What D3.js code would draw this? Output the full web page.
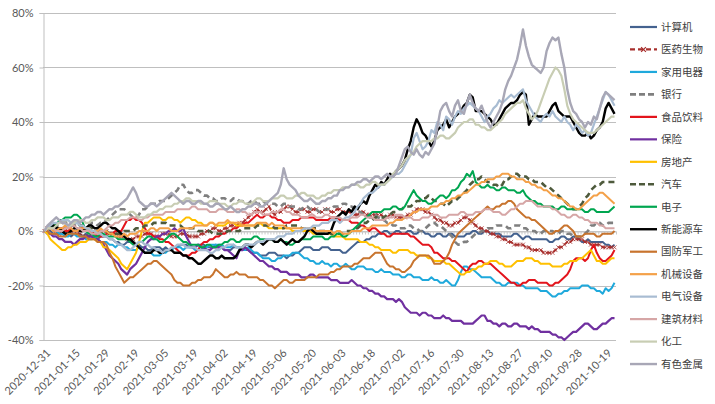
<!DOCTYPE html>
<html><head><meta charset="utf-8">
<script src="https://cdn.jsdelivr.net/npm/d3@7"></script>
<style>body{margin:0;background:#fff}svg{display:block}</style>
</head><body><svg id="c" width="715" height="404"></svg>
<script>
// ---------- data ----------
const tickLabels = ["2020-12-31","2021-01-15","2021-01-29","2021-02-19","2021-03-05","2021-03-19","2021-04-02","2021-04-19","2021-05-06","2021-05-20","2021-06-03","2021-06-18","2021-07-02","2021-07-16","2021-07-30","2021-08-13","2021-08-27","2021-09-10","2021-09-28","2021-10-19"];
const labelStep = 10;
const nPoints = 194;
const yTicks = [-40,-20,0,20,40,60,80];

const jisuanji = [0,1,0,-1,-1,0,0,-1,-1,-2, -1,-1,-1,-2,-1,-2,-2,-3,-3,-2, -2,-2,-3,-3,-4,-4,-5,-5,-4,-4, -4,-5,-5,-6,-6,-7,-7,-6,-6,-6, -7,-6,-7,-7,-6,-6,-5,-5,-5,-6, -6,-6,-5,-5,-5,-6,-6,-6,-5,-6, -6,-7,-7,-7,-6,-6,-6,-7,-7,-7, -8,-8,-8,-9,-9,-9,-8,-8,-8,-9, -9,-9,-10,-9,-9,-8,-8,-7,-6,-6, -6,-7,-7,-7,-6,-6,-6,-7,-7,-7, -7,-8,-8,-7,-6,-5,-4,-4,-4,-3, -3,-2,-2,-1,-1,0,0,-1,-1,0, 0,-1,-1,0,0,-1,-1,0,0,-1, -1,-2,-2,-1,-1,-2,-2,-1,-1,-2, -2,-2,-2,-1,-1,0,0,-1,-1,0, 0,-1,-1,-1,-1,-2,-2,-2,-2,-1, -1,-2,-3,-2,-2,-3,-3,-3,-3,-3, -3,-4,-4,-3,-3,-2,-2,-3,-3,-2, -2,-3,-4,-4,-3,-4,-4,-4,-4,-4, -5,-5,-6,-5];
const yiyao = [0,1,1,1,0,-1,-1,0,0,0, -1,-1,-1,-2,-2,-2,-1,-1,-1,0, 0,0,-1,-1,-1,-2,-2,-2,-3,-3, -3,-2,-2,-2,-1,-1,-1,-2,-2,-2, -1,-1,-1,-2,-2,-2,-1,-1,-1,-2, -2,-2,-2,-1,-1,0,0,1,1,0, 0,1,1,2,2,2,3,3,4,5, 6,7,8,7,7,8,9,7,6,7, 7,8,9,9,8,7,7,8,8,7, 7,8,8,7,7,8,8,7,7,8, 8,7,7,7,7,6,6,7,7,6, 6,6,6,6,6,5,5,6,6,5, 5,5,5,6,6,7,8,8,8,7, 7,6,5,4,4,3,3,2,2,3, 3,4,5,5,4,3,2,1,1,0, 0,-1,-1,-2,-2,-3,-3,-4,-4,-5, -5,-5,-5,-6,-6,-7,-7,-7,-7,-8, -8,-8,-8,-7,-6,-6,-5,-4,-4,-3, -3,-3,-3,-4,-4,-5,-5,-5,-5,-6, -6,-6,-6,-6];
const jiadian = [0,1,2,1,0,-1,-1,-2,-2,-1, -1,-2,-2,-2,-3,-3,-3,-2,-3,-4, -4,-4,-5,-5,-6,-5,-5,-6,-6,-7, -7,-7,-6,-7,-8,-8,-8,-9,-9,-9, -8,-8,-7,-7,-6,-6,-6,-7,-6,-6, -6,-7,-7,-7,-6,-6,-5,-5,-5,-5, -5,-6,-6,-6,-5,-6,-6,-7,-7,-6, -7,-8,-8,-9,-10,-10,-10,-11,-11,-10, -10,-9,-9,-9,-8,-8,-8,-9,-10,-10, -11,-11,-12,-12,-11,-12,-12,-13,-12,-12, -13,-13,-12,-13,-14,-14,-13,-13,-13,-14, -14,-14,-15,-15,-14,-15,-15,-15,-16,-16, -16,-17,-17,-16,-16,-17,-17,-17,-18,-18, -18,-17,-18,-18,-19,-19,-18,-19,-20,-20, -18,-15,-13,-13,-14,-14,-15,-16,-17,-17, -17,-17,-18,-19,-19,-20,-20,-19,-19,-19, -19,-20,-20,-21,-21,-21,-21,-21,-22,-22, -22,-23,-24,-24,-23,-23,-22,-22,-21,-21, -21,-21,-20,-20,-20,-21,-21,-22,-22,-23, -21,-22,-21,-19];
const yinhang = [0,1,2,2,2,1,1,1,2,2, 2,2,1,1,2,2,3,3,2,3, 3,4,5,6,7,8,8,8,7,6, 5,5,6,8,8,9,10,10,10,11, 11,11,12,13,14,15,17,17,15,14, 14,15,15,14,13,13,12,12,11,11, 12,12,11,11,12,12,11,11,10,10, 11,11,10,10,11,10,10,10,10,9, 9,10,10,9,9,9,8,8,9,9, 8,8,8,7,7,8,8,8,9,9, 9,10,10,9,9,8,7,7,6,6, 5,5,6,5,4,4,3,3,2,2, 1,1,1,2,2,1,1,0,0,1, 2,3,3,2,2,1,0,-1,-2,-4, -5,-5,-4,-4,-3,-2,-1,-1,0,0, 1,1,1,2,2,2,2,1,1,2, 2,2,1,1,0,0,0,-1,-1,0, 0,0,0,-1,-1,0,0,-1,-1,-2, -2,-2,-2,-1,0,2,2,3,3,2, 2,3,3,3];
const shipin = [0,1,2,2,1,1,1,0,0,1, 0,0,1,1,0,0,-1,-1,-2,-2, -2,-1,-1,-1,0,0,0,2,4,4, 5,4,4,3,1,-1,-1,-2,-2,-3, -3,-4,-4,-5,-6,-7,-8,-9,-9,-9, -8,-8,-7,-5,-4,-4,-3,-3,-2,-2, -1,-1,0,0,1,1,2,2,3,3, 4,5,6,5,5,6,6,5,5,4, 4,3,3,3,4,4,4,5,5,5, 5,5,4,4,4,4,4,5,5,5, 4,4,4,4,3,3,3,2,2,1, 0,1,1,0,-1,-1,-2,-2,-1,-1, -1,-1,-1,-1,-2,-2,-3,-4,-5,-5, -5,-6,-8,-8,-9,-10,-10,-10,-11,-11, -12,-13,-14,-15,-13,-12,-12,-11,-11,-12, -12,-12,-13,-14,-15,-16,-17,-18,-19,-19, -20,-20,-19,-19,-18,-18,-18,-19,-19,-19, -19,-20,-20,-19,-19,-18,-17,-16,-14,-11, -10,-10,-10,-11,-10,-7,-5,-8,-10,-11, -11,-10,-9,-7];
const baoxian = [0,-1,-1,-2,-2,-3,-3,-4,-4,-4, -5,-4,-3,-3,-2,-2,-2,-3,-3,-4, -5,-7,-9,-10,-11,-12,-14,-15,-16,-14, -13,-12,-10,-8,-6,-4,-3,-3,-2,-2, -1,-1,0,0,1,0,0,1,-2,-4, -6,-6,-5,-6,-6,-7,-7,-6,-6,-6, -6,-7,-7,-8,-9,-10,-7,-7,-6,-7, -8,-9,-10,-11,-11,-12,-13,-13,-14,-14, -15,-15,-15,-16,-16,-16,-16,-17,-17,-17, -16,-16,-17,-17,-17,-17,-17,-18,-18,-18, -19,-19,-19,-19,-18,-19,-20,-20,-21,-21, -22,-22,-23,-23,-24,-24,-25,-25,-25,-26, -25,-26,-28,-29,-30,-30,-30,-31,-30,-30, -31,-31,-32,-32,-32,-31,-32,-32,-33,-33, -33,-33,-34,-34,-34,-34,-33,-32,-31,-31, -33,-33,-34,-34,-35,-34,-34,-35,-35,-34, -34,-35,-35,-35,-36,-35,-36,-36,-37,-37, -37,-37,-38,-38,-39,-39,-40,-39,-38,-37, -37,-36,-35,-34,-34,-35,-36,-36,-35,-34, -34,-33,-32,-32];
const fangdichan = [0,-1,-3,-4,-5,-6,-7,-7,-6,-6, -5,-5,-4,-4,-4,-3,-3,-3,-4,-4, -6,-6,-7,-8,-9,-10,-12,-13,-14,-12, -10,-8,-4,0,3,3,4,5,5,5, 4,4,5,5,4,4,3,4,5,5, 4,4,3,3,2,2,3,3,2,2, 2,2,3,3,3,2,2,2,2,2, 2,2,2,3,2,2,1,1,1,1, 1,1,1,1,0,0,0,0,0,0, 0,-1,-1,-1,-1,-1,-1,-1,-2,-2, -2,-2,-3,-3,-3,-3,-3,-4,-4,-4, -5,-5,-6,-6,-7,-7,-7,-7,-8,-8, -7,-7,-7,-7,-8,-8,-9,-9,-9,-9, -10,-10,-11,-11,-11,-11,-12,-12,-13,-14, -15,-16,-16,-15,-15,-14,-14,-13,-13,-12, -12,-11,-11,-11,-12,-12,-13,-13,-13,-12, -11,-11,-11,-10,-10,-10,-11,-11,-12,-12, -12,-12,-13,-13,-13,-13,-12,-12,-11,-11, -11,-10,-10,-9,-8,-7,-9,-11,-11,-12, -12,-11,-10,-10];
const qiche = [0,1,1,2,2,2,3,3,3,2, 3,3,2,2,1,1,1,0,0,0, 0,0,-1,-1,-1,-1,-1,0,0,0, 0,1,1,1,2,2,2,3,3,3, 3,3,2,2,2,2,2,1,1,1, 1,1,0,0,0,0,0,-1,-1,-1, -1,-1,0,0,0,0,0,1,1,1, 1,1,2,2,2,2,2,2,1,1, 1,1,2,2,2,2,2,1,1,1, 1,1,1,0,0,0,0,-1,-1,-1, -1,-1,0,0,0,1,1,2,3,3, 4,4,5,5,5,5,6,6,7,7, 8,8,9,9,9,10,11,11,12,12, 13,12,11,11,10,10,9,10,11,11, 12,13,14,15,17,18,19,19,20,19, 18,18,17,17,16,17,19,19,20,21, 21,20,20,20,19,19,18,18,18,17, 16,16,15,14,13,12,11,10,9,8, 8,9,10,12,13,15,16,17,17,18, 18,18,18,18];
const dianzi = [0,1,1,2,2,4,4,5,5,5, 6,6,5,3,0,-1,-1,-2,-2,-1, -1,-2,-2,-2,-2,-3,-3,-3,-3,-4, -5,-5,-4,-4,-3,-2,-2,-3,-3,-4, -4,-3,-2,-1,-1,-2,-3,-4,-4,-5, -5,-5,-5,-6,-6,-5,-5,-6,-6,-5, -5,-4,-4,-3,-3,-4,-4,-3,-3,-3, -3,-2,-2,-3,-3,-3,-3,-3,-4,-4, -3,-4,-4,-5,-5,-4,-4,-3,-3,-3, -3,-2,-2,-2,-2,-3,-3,-2,-2,-1, -1,-2,-2,-1,0,1,2,3,4,5, 6,7,7,7,7,8,8,8,9,9, 8,8,9,11,13,15,13,12,11,11, 10,10,11,12,13,13,12,13,15,15, 16,18,19,21,20,22,18,17,16,16, 17,16,16,15,15,16,16,15,15,15, 14,14,15,13,12,11,11,10,10,9, 9,9,9,8,8,9,9,8,8,8, 8,8,8,7,7,8,8,7,7,7, 7,7,8,9];
const xinnengyuan = [0,1,2,2,1,1,0,-1,-1,0, 1,1,0,0,1,2,2,1,1,2, 3,3,2,1,1,0,-1,-2,-3,-3, -4,-5,-6,-7,-8,-8,-8,-7,-7,-8, -8,-7,-7,-7,-8,-8,-8,-9,-9,-10, -10,-11,-12,-12,-11,-10,-9,-9,-10,-10, -9,-10,-10,-10,-10,-9,-7,-6,-5,-5, -6,-5,-4,-4,-5,-4,-3,-3,-4,-4, -3,-4,-5,-4,-3,-4,-4,-3,-2,0, 1,0,-1,-1,-1,-1,-1,0,3,5, 6,7,6,8,7,9,8,10,11,10, 13,15,17,16,18,17,19,21,20,22, 23,24,26,30,33,38,41,39,36,35, 33,31,33,37,38,39,41,38,40,42, 43,44,46,47,50,49,44,44,44,43, 42,41,39,39,41,43,45,46,47,47, 48,50,51,50,39,41,43,42,42,42, 42,44,46,47,44,43,42,42,42,40, 38,36,35,35,36,34,35,37,38,40, 45,47,45,43];
const guofang = [0,0,-1,-1,-1,-2,-2,-2,-1,-1, -1,-1,-2,-2,-2,-3,-3,-3,-4,-4, -4,-5,-8,-10,-13,-15,-17,-19,-18,-17, -17,-16,-15,-14,-13,-12,-12,-11,-11,-12, -13,-14,-15,-16,-18,-19,-19,-20,-20,-20, -19,-19,-18,-18,-17,-17,-17,-16,-14,-15, -16,-17,-17,-16,-16,-15,-16,-16,-16,-17, -17,-17,-17,-18,-18,-19,-20,-20,-21,-20, -19,-18,-18,-19,-19,-18,-18,-18,-18,-17, -17,-17,-17,-16,-16,-16,-16,-15,-15,-14, -14,-13,-13,-13,-13,-12,-12,-11,-10,-10, -10,-9,-8,-8,-8,-10,-12,-13,-13,-14, -14,-15,-15,-14,-13,-11,-10,-9,-9,-9, -9,-10,-12,-12,-12,-11,-10,-8,-5,-3, -1,0,1,2,3,4,5,6,7,8, 9,8,8,9,9,10,10,11,11,10, 8,7,6,5,5,4,4,3,2,1, 0,-1,-1,0,0,1,2,2,1,0, -2,-2,-2,-1,-1,-1,-1,-2,-2,-1, -1,-1,-1,0];
const jixie = [0,1,1,0,0,1,1,2,1,1, 0,0,1,1,1,1,0,0,0,1, 0,0,-1,-1,-2,-2,-2,-1,-2,-1, -1,-1,0,0,0,0,1,1,0,1, 1,1,1,0,0,0,1,1,1,1, 1,2,2,2,2,2,3,3,2,3, 3,3,4,3,3,3,3,2,2,2, 2,2,3,3,3,3,2,3,2,2, 2,2,1,1,1,1,1,1,1,1, 1,1,0,0,0,0,0,0,-1,0, 0,-1,-1,-1,0,0,0,0,1,1, 1,2,2,2,2,2,2,3,3,4, 4,4,5,5,6,7,7,8,8,8, 8,9,9,9,10,10,11,11,12,12, 13,13,14,14,15,16,17,17,18,18, 19,19,19,20,20,21,21,21,20,20, 19,19,19,18,18,17,17,16,16,15, 15,14,13,13,12,12,11,10,9,9, 8,8,9,10,11,12,13,13,14,14, 13,12,11,10];
const dianqi = [0,1,2,3,3,3,4,4,4,3, 3,3,2,2,1,1,0,0,-1,-1, -2,-2,-3,-3,-4,-5,-5,-6,-7,-7, -6,-5,-4,-4,-5,-5,-6,-6,-7,-7, -8,-7,-7,-6,-6,-5,-5,-5,-6,-6, -6,-6,-7,-7,-7,-7,-8,-8,-7,-7, -6,-6,-5,-5,-5,-6,-6,-6,-5,-5, -5,-5,-4,-4,-4,-3,-3,-3,-3,-2, -2,-2,-1,-1,-1,0,0,0,1,1, 1,2,2,2,3,3,3,4,4,4, 3,4,5,5,6,7,9,10,12,13, 14,14,15,16,17,17,18,19,20,21, 21,22,24,26,28,34,36,33,30,31, 33,37,36,40,39,37,42,41,39,42, 44,43,45,46,47,46,45,44,42,40, 42,43,45,46,48,47,48,49,50,49, 50,51,52,48,46,44,42,41,40,42, 43,42,44,42,41,40,42,40,39,37, 39,38,36,37,35,36,39,42,45,48, 51,50,48,46];
const jiancai = [0,1,1,1,0,0,0,1,1,2, 2,1,1,0,0,0,-1,-1,-1,0, 0,1,2,2,3,3,4,4,4,5, 5,5,4,4,5,5,6,6,6,6, 6,7,7,7,7,8,8,8,8,8, 9,9,8,8,8,8,7,7,7,8, 8,8,7,7,7,8,8,7,7,6, 6,7,7,7,6,6,6,7,7,7, 8,8,7,7,6,6,6,5,5,5, 6,6,5,5,5,6,6,5,5,5, 5,4,4,4,5,5,5,6,6,5, 5,5,4,4,4,4,5,5,5,6, 6,6,5,5,5,4,4,4,5,5, 5,6,6,6,5,5,5,6,6,6, 6,7,7,6,6,6,7,7,7,8, 8,8,7,7,7,6,6,7,8,8, 9,10,10,11,11,11,10,9,9,9, 9,9,8,8,7,6,6,5,5,6, 6,5,5,4,4,3,3,3,2,2, 1,1,1,1];
const huagong = [0,1,1,1,2,3,3,3,2,2, 3,4,4,4,3,3,4,4,5,5, 5,4,4,5,5,5,6,6,6,7, 7,6,5,5,5,6,6,7,7,8, 8,9,9,9,10,10,11,11,12,12, 11,11,11,10,10,10,11,11,11,10, 10,10,9,9,10,10,11,11,10,10, 10,11,12,12,11,11,11,12,12,12, 13,13,12,12,12,13,13,14,14,13, 13,13,12,12,13,13,14,14,15,15, 15,16,16,16,17,17,17,16,16,17, 17,18,18,17,17,17,18,19,21,22, 23,24,26,27,28,29,31,32,33,33, 33,33,34,34,35,35,34,34,35,36, 38,39,40,40,41,41,39,39,38,38, 37,37,38,39,40,41,43,44,45,46, 47,47,48,45,43,41,42,44,47,50, 53,56,58,60,59,57,52,46,43,41, 40,39,38,37,36,36,36,37,38,39, 40,41,42,42];
const youse = [0,2,3,4,5,4,3,3,2,3, 4,4,3,4,5,5,6,6,7,7, 6,7,8,8,9,9,10,11,12,14, 16,14,11,10,9,9,10,10,9,10, 11,12,13,14,13,12,11,10,11,11, 10,10,11,11,10,10,9,9,10,10, 9,8,8,9,8,7,7,8,8,9, 9,10,10,9,9,10,11,12,13,14, 17,23,19,17,16,15,13,12,11,11, 12,11,10,10,11,11,12,12,13,13, 15,15,16,16,17,17,18,18,19,19, 18,19,20,20,19,20,21,20,20,21, 24,27,30,31,29,28,30,28,27,29, 28,30,32,38,44,46,47,44,42,46, 48,44,43,47,50,47,45,44,46,43, 40,38,40,42,44,47,52,55,57,60, 63,68,74,68,64,61,60,59,58,60, 66,69,71,70,71,65,60,52,47,44, 43,41,40,38,40,39,42,41,45,49, 51,50,49,48];

const seriesNames = ["计算机","医药生物","家用电器","银行","食品饮料","保险","房地产","汽车","电子","新能源车","国防军工","机械设备","电气设备","建筑材料","化工","有色金属"];
const seriesValues = [jisuanji,yiyao,jiadian,yinhang,shipin,baoxian,fangdichan,qiche,dianzi,xinnengyuan,guofang,jixie,dianqi,jiancai,huagong,youse];
// styles
const seriesColors = ["#44628f","#a8302e","#1fa9dc","#7f7f7f","#e3141c","#7030a0","#ffc000","#4e5a3c","#00a650","#000000","#c8742e","#f4a149","#a8bcd2","#d6a6a6","#c8cdb3","#a8a7b6"];
const seriesWidths = [2,2,2,2.6,2,2.2,2,2.6,2,2.4,2,2,2.2,2,2.2,2.4];
const seriesDash = [null,"5,2",null,"6,4",null,null,null,"6,4",null,null,null,null,null,null,null,null];
const seriesMarker = [false,true,false,false,false,false,false,false,false,false,false,false,false,false,false,false];

const series = seriesNames.map((name,k)=>({name, values: seriesValues[k], color: seriesColors[k], width: seriesWidths[k], dash: seriesDash[k], marker: seriesMarker[k]}));

// ---------- chart ----------
const svg = d3.select("#c");
const pLeft = 43, pRight = 616, pTop = 13, pBottom = 340;
const x = d3.scaleBand().domain(d3.range(nPoints)).range([pLeft,pRight]).paddingInner(0).paddingOuter(0);
const xc = i => x(i) + x.bandwidth()/2;
const xEdge = d3.scaleLinear().domain([0,nPoints]).range([pLeft,pRight]);
const y = d3.scaleLinear().domain([-40,80]).range([pBottom,pTop]);
const gridColor = "#bfbfbf";
const labelFont = "Lato, 'Liberation Sans', Arial, sans-serif";

// gridlines
svg.append("g").selectAll("line").data(yTicks).join("line")
  .attr("x1",pLeft).attr("x2",pRight)
  .attr("y1",d=>Math.round(y(d))+0.5).attr("y2",d=>Math.round(y(d))+0.5)
  .attr("stroke",gridColor).attr("stroke-width",1);

// y axis
const gy = svg.append("g").attr("transform",`translate(${pLeft+0.5},0)`)
  .call(d3.axisLeft(y).tickValues(yTicks).tickFormat(d=>d+"%").tickSize(4).tickPadding(6));
gy.select(".domain").attr("stroke",gridColor);
gy.selectAll(".tick line").attr("stroke",gridColor);
gy.selectAll("text").attr("fill","#595959").style("font-family",labelFont).style("font-size","11px");

// category axis line at 0% with a tick per category
const g0 = svg.append("g").attr("transform",`translate(0,${Math.round(y(0))+0.5})`)
  .call(d3.axisBottom(xEdge).tickValues(d3.range(0,nPoints+1)).tickFormat("").tickSize(3).tickSizeOuter(0));
g0.select(".domain").attr("stroke","#c8c8c8");
g0.selectAll(".tick line").attr("stroke","#c8c8c8");

// category labels (low position)
const labelIdx = tickLabels.map((d,i)=>i*labelStep);
const gx = svg.append("g").attr("transform",`translate(0,${pBottom})`)
  .call(d3.axisBottom(x).tickValues(labelIdx).tickFormat(i=>tickLabels[i/labelStep]).tickSize(0));
gx.select(".domain").remove();
gx.selectAll("text").attr("fill","#595959").style("font-family",labelFont).style("font-size","11px")
  .attr("x",0).attr("y",0).attr("dy","0.35em").attr("text-anchor","end")
  .attr("transform","translate(4,11) rotate(-45)");

// series lines
const line = d3.line().x((d,i)=>xc(i)).y(d=>y(d));
const gl = svg.append("g");
series.forEach(s=>{
  const p = gl.append("path").datum(s.values).attr("d",line)
    .attr("fill","none").attr("stroke",s.color).attr("stroke-width",s.width)
    .attr("stroke-linejoin","round");
  if(s.dash) p.attr("stroke-dasharray",s.dash).attr("stroke-linecap","butt");
  if(s.marker){
    gl.append("g").selectAll("path").data(s.values).join("path")
      .attr("d",(d,i)=>{const cx=xc(i), cy=y(d), r=2; return `M${cx-r},${cy-r}L${cx+r},${cy+r}M${cx-r},${cy+r}L${cx+r},${cy-r}`;})
      .attr("stroke",s.color).attr("stroke-width",0.9).attr("stroke-opacity",0.85).attr("fill","none");
  }
});

// legend
const lg = svg.append("g");
series.forEach((s,k)=>{
  const ly = 27 + k*22.47;
  lg.append("line").attr("x1",630).attr("x2",657).attr("y1",ly).attr("y2",ly)
    .attr("stroke",s.color).attr("stroke-width",Math.max(2.2,s.width))
    .attr("stroke-dasharray",s.dash? (s.marker?"5,3":"6,3") : null);
  if(s.marker){
    const cx=643.5, r=2.4;
    lg.append("path").attr("d",`M${cx-r},${ly-r}L${cx+r},${ly+r}M${cx-r},${ly+r}L${cx+r},${ly-r}`)
      .attr("stroke",s.color).attr("stroke-width",1.2);
  }
  lg.append("text").attr("x",661).attr("y",ly).attr("dy","0.36em")
    .attr("fill","#404040").style("font-family","'Noto Sans CJK SC', sans-serif").style("font-size","10.5px")
    .text(s.name);
});
</script>
</body></html>
